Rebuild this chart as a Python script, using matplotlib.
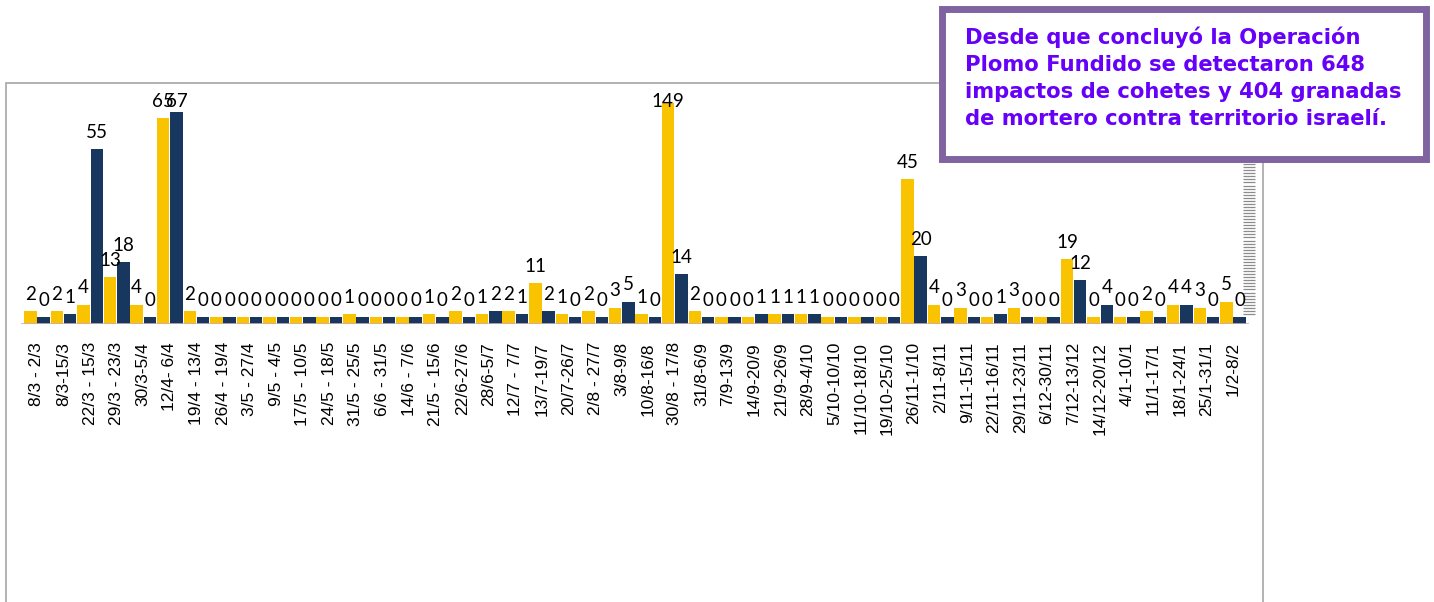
import matplotlib.pyplot as plt
import numpy as np
from matplotlib.patches import Rectangle

weeks = ["8/3 - 2/3", "8/3-15/3", "22/3 - 15/3", "29/3 - 23/3", "30/3-5/4",
         "12/4- 6/4", "19/4 - 13/4", "26/4 - 19/4", "3/5 - 27/4", "9/5 - 4/5",
         "17/5 - 10/5", "24/5 - 18/5", "31/5 - 25/5", "6/6 - 31/5", "14/6 - 7/6",
         "21/5 - 15/6", "22/6-27/6", "28/6-5/7", "12/7 - 7/7", "13/7-19/7",
         "20/7-26/7", "2/8 - 27/7", "3/8-9/8", "10/8-16/8", "30/8 - 17/8",
         "31/8-6/9", "7/9-13/9", "14/9-20/9", "21/9-26/9", "28/9-4/10",
         "5/10-10/10", "11/10-18/10", "19/10-25/10", "26/11-1/10", "2/11-8/11",
         "9/11-15/11", "22/11-16/11", "29/11-23/11", "6/12-30/11", "7/12-13/12",
         "14/12-20/12", "4/1-10/1", "11/1-17/1", "18/1-24/1", "25/1-31/1",
         "1/2-8/2"]

# yellow series
cohetes = [2, 2, 4, 13, 4, 65, 2,
           0, 0, 0, 0, 0, 1, 0, 0,
           1, 2, 1, 2, 11, 1, 2, 3, 1, 149,
           2, 0, 0, 1, 1, 0, 0, 0,
           45, 4, 3, 0, 3, 0, 19, 0, 0, 2, 4, 3, 5]
# navy series
morteros = [0, 1, 55, 18, 0, 67, 0,
            0, 0, 0, 0, 0, 0, 0, 0,
            0, 0, 2, 1, 2, 0, 0, 5, 0, 14,
            0, 0, 1, 1, 1, 0, 0, 0,
            20, 0, 0, 1, 0, 0, 12, 4, 0, 0, 4, 0, 0]

note = ("Desde que concluyó la Operación\n"
        "Plomo Fundido se detectaron 648\n"
        "impactos de cohetes y 404 granadas\n"
        "de mortero contra territorio israelí.")

YEL = '#FAC300'
NAVY = '#17375E'
W, H = 1434, 602

fig = plt.figure(figsize=(W / 100, H / 100), dpi=100)
ax = fig.add_axes([21 / W, 1 - 324 / H, 1228 / W, 221 / H])

x = np.arange(len(weeks))
floor = 2.3
ymax = 70
bw = 0.47
ax.bar(x - 0.25, np.array(cohetes) + floor, bottom=-floor, width=bw,
       color=YEL, edgecolor='none')
ax.bar(x + 0.25, np.array(morteros) + floor, bottom=-floor, width=bw,
       color=NAVY, edgecolor='none')
ax.axhline(-floor, color='#d8a8b8', lw=1.2)

for xi, a, b in zip(x, cohetes, morteros):
    for dx, v in ((-0.25, a), (0.25, b)):
        ax.annotate(str(v), (xi + dx, min(v, 65)), xytext=(0, 6),
                    textcoords='offset points', ha='center', va='bottom',
                    fontsize=13.5, family='Lato', color='black')

ax.set_xlim(-0.6, len(weeks) - 0.4)
ax.set_ylim(-floor, ymax)
ax.set_xticks(x)
ax.set_xticklabels(weeks, rotation=90, fontsize=12.5, family='Liberation Sans')
ax.tick_params(axis='x', length=0, pad=13)
ax.yaxis.tick_right()
ax.set_yticks(np.arange(1, ymax + 1))
ax.tick_params(axis='y', direction='inout', length=9, width=0.9,
               color='#8c8c8c', labelright=False)
for s in ax.spines.values():
    s.set_visible(False)

# outer chart frame
fig.add_artist(Rectangle((6 / W, -0.05), (1263 - 6) / W, 1.05 - 83 / H,
                         transform=fig.transFigure, fill=False,
                         edgecolor='#a6a6a6', lw=1.2))

# note box
fig.add_artist(Rectangle((941.5 / W, 1 - 159 / H), (1426 - 941.5) / W,
                         (159 - 8.5) / H, transform=fig.transFigure,
                         facecolor='white', edgecolor='#8064A2', lw=5,
                         zorder=5))
fig.text(965 / W, 1 - 27 / H, note, va='top', ha='left', fontsize=15.2,
         fontweight='bold', color='#6600f8', linespacing=1.42,
         family='DejaVu Sans', zorder=6)

fig.savefig('out.png', dpi=100)
